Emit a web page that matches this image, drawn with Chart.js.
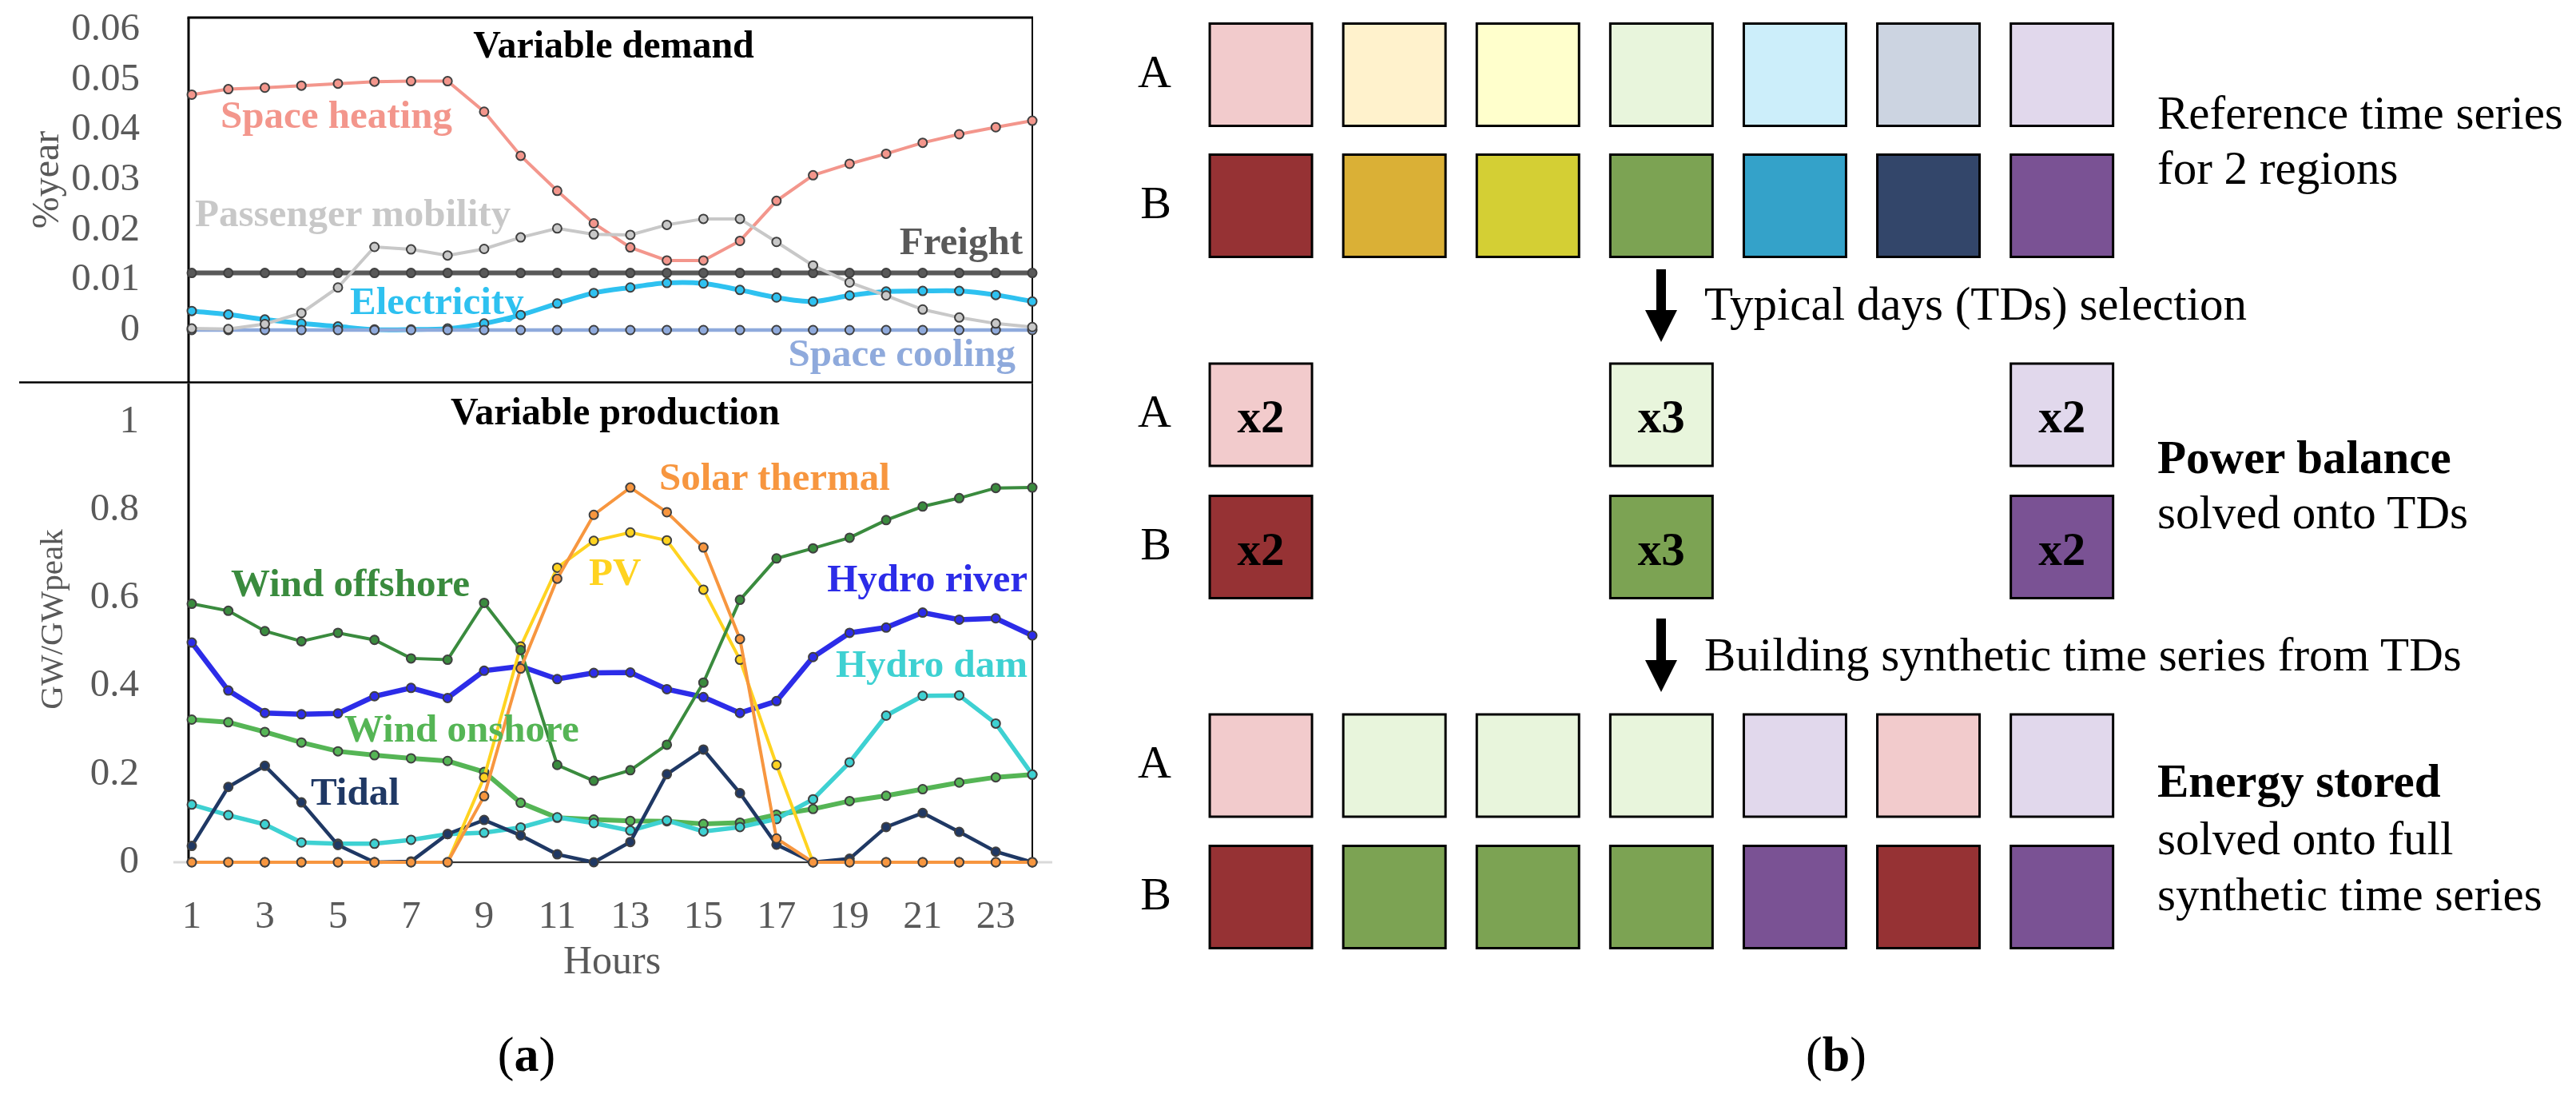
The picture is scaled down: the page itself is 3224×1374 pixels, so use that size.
<!DOCTYPE html>
<html><head><meta charset="utf-8">
<script src="https://cdn.jsdelivr.net/npm/chart.js@4.4.1/dist/chart.umd.min.js"></script>
<style>
html,body{margin:0;padding:0;background:#fff;}
#page{position:relative;width:3224px;height:1374px;overflow:hidden;background:#fff;}
canvas{position:absolute;}
.t{position:absolute;white-space:nowrap;font-family:'Liberation Serif','Times New Roman',serif;}
</style></head>
<body><div id="page">
<canvas id="demand"></canvas>
<canvas id="production"></canvas>
<canvas id="stage1"></canvas>
<canvas id="stage2"></canvas>
<canvas id="stage3"></canvas>
<svg id="arrows" width="3224" height="1374" style="position:absolute;left:0;top:0">
  <rect x="2073" y="337" width="12" height="52" fill="#000"/>
  <polygon points="2059,388 2099,388 2079,428" fill="#000"/>
  <rect x="2073" y="774" width="12" height="53" fill="#000"/>
  <polygon points="2059,826 2099,826 2079,866" fill="#000"/>
</svg>
</div>
<script>
// ---------------- DATA ----------------
const hours = [1,2,3,4,5,6,7,8,9,10,11,12,13,14,15,16,17,18,19,20,21,22,23,24];
const hourTicks = [1,3,5,7,9,11,13,15,17,19,21,23];
const hourTickLabels = ['1','3','5','7','9','11','13','15','17','19','21','23'];

const demandTicks = [0,0.01,0.02,0.03,0.04,0.05,0.06];
const demandTickLabels = ['0','0.01','0.02','0.03','0.04','0.05','0.06'];
const productionTicks = [0,0.2,0.4,0.6,0.8,1];
const productionTickLabels = ['0','0.2','0.4','0.6','0.8','1'];

const spaceHeating = [0.0470,0.0481,0.0484,0.0488,0.0492,0.0496,0.0497,0.0497,0.0436,0.0348,0.0278,0.0213,0.0165,0.0139,0.0139,0.0178,0.0258,0.0309,0.0332,0.0352,0.0374,0.0391,0.0405,0.0418];
const passengerMobility = [0.0003,0.0002,0.0012,0.0034,0.0085,0.0166,0.0161,0.0149,0.0162,0.0185,0.0203,0.0191,0.0190,0.0210,0.0222,0.0222,0.0176,0.0129,0.0095,0.0069,0.0041,0.0025,0.0013,0.0006];
const freight = [0.0114,0.0114,0.0114,0.0114,0.0114,0.0114,0.0114,0.0114,0.0114,0.0114,0.0114,0.0114,0.0114,0.0114,0.0114,0.0114,0.0114,0.0114,0.0114,0.0114,0.0114,0.0114,0.0114,0.0114];
const electricity = [0.0038,0.0031,0.0021,0.0013,0.0007,0.0001,0.0001,0.0003,0.0013,0.0030,0.0053,0.0074,0.0085,0.0094,0.0093,0.0080,0.0065,0.0057,0.0069,0.0077,0.0078,0.0078,0.0070,0.0057];
const spaceCooling = [0,0,0,0,0,0,0,0,0,0,0,0,0,0,0,0,0,0,0,0,0,0,0,0];

const windOffshore = [0.587,0.571,0.525,0.502,0.521,0.505,0.463,0.460,0.589,0.482,0.221,0.185,0.209,0.267,0.408,0.596,0.690,0.713,0.737,0.777,0.808,0.827,0.850,0.851];
const hydroRiver = [0.499,0.390,0.339,0.336,0.338,0.377,0.396,0.373,0.435,0.445,0.416,0.430,0.431,0.393,0.375,0.339,0.366,0.466,0.521,0.533,0.567,0.551,0.554,0.515];
const solarThermal = [0,0,0,0,0,0,0,0,0.150,0.440,0.644,0.789,0.851,0.795,0.715,0.507,0.054,0,0,0,0,0,0,0];
const pv = [0,0,0,0,0,0,0,0,0.193,0.490,0.669,0.730,0.749,0.731,0.619,0.460,0.221,0,0,0,0,0,0,0];
const hydroDam = [0.131,0.107,0.086,0.045,0.042,0.042,0.051,0.064,0.067,0.079,0.102,0.089,0.072,0.095,0.070,0.080,0.098,0.143,0.227,0.333,0.378,0.379,0.315,0.199];
const windOnshore = [0.324,0.318,0.296,0.272,0.252,0.243,0.236,0.230,0.205,0.135,0.101,0.097,0.094,0.093,0.087,0.090,0.108,0.121,0.139,0.151,0.166,0.181,0.193,0.199];
const tidal = [0.037,0.171,0.219,0.136,0.039,0,0.002,0.064,0.096,0.061,0.018,0,0.046,0.200,0.256,0.157,0.040,0,0.008,0.080,0.112,0.069,0.024,0];

// panel (b)
const regions = ['A','B'];
const referenceDays = [1,2,3,4,5,6,7];
const dayColorsA = ['#F2CBCC','#FFF2CC','#FFFFCC','#E8F5DC','#CCEEFA','#CCD4E1','#E1D8EC'];
const dayColorsB = ['#963234','#DAB036','#D4CF34','#7CA353','#34A2C9','#33466A','#7A5294'];
const typicalDays = [1,4,7];
const typicalDayWeights = ['x2','x3','x2'];
const syntheticSequence = [1,4,4,4,7,1,7];

// ---------------- STYLES / LAYOUT ----------------
const SERIF = "'Liberation Serif','Times New Roman',serif";
const GREY = '#595959';
const page = document.getElementById('page');

function setCanvas(id, left, top, w, h){
  const c = document.getElementById(id);
  c.width = w; c.height = h;
  c.style.left = left+'px'; c.style.top = top+'px';
  c.style.width = w+'px'; c.style.height = h+'px';
  return c;
}
function addText(html, x, baseline, size, opts){
  opts = opts || {};
  const d = document.createElement('div');
  d.className = 't';
  d.innerHTML = html;
  d.style.fontSize = size+'px';
  d.style.lineHeight = size+'px';
  d.style.top = (baseline - 0.8375*size)+'px';
  d.style.color = opts.color || '#000';
  d.style.fontWeight = opts.bold ? 'bold' : 'normal';
  if (opts.align === 'center'){ d.style.left = x+'px'; d.style.transform = 'translateX(-50%)'; }
  else if (opts.align === 'right'){ d.style.right = (3224-x)+'px'; }
  else d.style.left = x+'px';
  page.appendChild(d);
}
function addRotText(txt, cx, cy, size, color){
  const d = document.createElement('div');
  d.className = 't';
  d.textContent = txt;
  d.style.fontSize = size+'px';
  d.style.lineHeight = size+'px';
  d.style.color = color;
  d.style.left = cx+'px'; d.style.top = cy+'px';
  d.style.transform = 'translate(-50%,-50%) rotate(-90deg)';
  page.appendChild(d);
}
function pts(vals){ return hours.map((h,i)=>({x:h, y:vals[i]})); }
function series(label, vals, color, width, opts){
  return Object.assign({
    label: label, data: pts(vals), borderColor: color, borderWidth: width,
    pointRadius: 5.5, pointHoverRadius: 5.5, pointBorderWidth: 2, pointBorderColor: '#404040',
    pointBackgroundColor: color, tension: 0, clip: false, fill: false
  }, opts || {});
}
function fixedAxis(width){
  return function(scale){ scale.width = width; scale.paddingTop = 0; scale.paddingBottom = 0; scale.paddingLeft = 0; scale.paddingRight = 0; };
}
Chart.defaults.animation = false;
Chart.defaults.font.family = SERIF;

const HOUR_MIN = 0.9125, HOUR_MAX = 24;

// ---------------- DEMAND CHART ----------------
setCanvas('demand', 0, 0, 1320, 482);
const demandFrame = {
  id: 'demandFrame',
  beforeDatasetsDraw(chart){
    const {ctx, chartArea: a} = chart;
    ctx.save(); ctx.strokeStyle = '#000';
    ctx.lineWidth = 3; ctx.beginPath(); ctx.moveTo(a.left-1.5, a.top); ctx.lineTo(a.right+1, a.top); ctx.stroke();
    ctx.lineWidth = 3; ctx.beginPath(); ctx.moveTo(a.left, a.top); ctx.lineTo(a.left, a.bottom); ctx.stroke();
    ctx.lineWidth = 2; ctx.beginPath(); ctx.moveTo(a.right, a.top); ctx.lineTo(a.right, a.bottom); ctx.stroke();
    ctx.lineWidth = 2.5; ctx.beginPath(); ctx.moveTo(24, a.bottom-0.5); ctx.lineTo(a.right+1, a.bottom-0.5); ctx.stroke();
    ctx.restore();
  }
};
new Chart(document.getElementById('demand'), {
  type: 'line',
  data: { datasets: [
    series('Passenger mobility', passengerMobility, '#C8C8C8', 4),
    series('Space cooling', spaceCooling, '#8FAADC', 4.5),
    series('Electricity', electricity, '#2EC1F0', 6, {tension: 0.3}),
    series('Freight', freight, '#595959', 6),
    series('Space heating', spaceHeating, '#F3968C', 4)
  ]},
  options: {
    responsive: false, events: [],
    layout: { autoPadding: false, padding: { left: 0, right: 28, top: 22, bottom: 3 } },
    plugins: { legend: { display: false }, tooltip: { enabled: false } },
    scales: {
      x: { type: 'linear', min: HOUR_MIN, max: HOUR_MAX, display: false },
      y: {
        type: 'linear', min: -0.010532, max: 0.062394,
        afterBuildTicks(scale){ scale.ticks = demandTicks.map(v=>({value:v})); },
        afterFit: fixedAxis(236),
        grid: { display: false, drawTicks: false }, border: { display: false },
        ticks: { padding: 61, color: GREY, font: { family: SERIF, size: 49 },
          callback: (v, i) => demandTickLabels[i] }
      }
    }
  },
  plugins: [demandFrame]
});

// ---------------- PRODUCTION CHART ----------------
setCanvas('production', 0, 470, 1320, 730);
const prodFrame = {
  id: 'prodFrame',
  beforeDatasetsDraw(chart){
    const {ctx, chartArea: a} = chart;
    const y0 = chart.scales.y.getPixelForValue(0);
    ctx.save();
    ctx.strokeStyle = '#D9D9D9'; ctx.lineWidth = 3;
    ctx.beginPath(); ctx.moveTo(a.left-19, y0); ctx.lineTo(a.right+25, y0); ctx.stroke();
    ctx.strokeStyle = '#000';
    ctx.lineWidth = 3; ctx.beginPath(); ctx.moveTo(a.left, a.top); ctx.lineTo(a.left, a.bottom); ctx.stroke();
    ctx.lineWidth = 2; ctx.beginPath(); ctx.moveTo(a.right, a.top); ctx.lineTo(a.right, a.bottom); ctx.stroke();
    ctx.lineWidth = 1.5; ctx.beginPath(); ctx.moveTo(a.left, a.bottom); ctx.lineTo(a.right, a.bottom); ctx.stroke();
    ctx.restore();
  }
};
new Chart(document.getElementById('production'), {
  type: 'line',
  data: { datasets: [
    series('Solar thermal', solarThermal, '#F7963F', 4),
    series('Wind offshore', windOffshore, '#3A8B3E', 4),
    series('PV', pv, '#FFD320', 4),
    series('Tidal', tidal, '#1F3864', 4.5),
    series('Hydro dam', hydroDam, '#3ED1D2', 5.5),
    series('Wind onshore', windOnshore, '#55B555', 6),
    series('Hydro river', hydroRiver, '#2C2CE8', 6.5)
  ]},
  options: {
    responsive: false, events: [],
    layout: { autoPadding: false, padding: { left: 0, right: 28, top: 10, bottom: 0 } },
    plugins: { legend: { display: false }, tooltip: { enabled: false } },
    scales: {
      x: {
        type: 'linear', min: HOUR_MIN, max: HOUR_MAX,
        afterBuildTicks(scale){ scale.ticks = hourTicks.map(v=>({value:v})); },
        afterFit(scale){ scale.height = 121; scale.paddingLeft = 0; scale.paddingRight = 0; },
        grid: { display: false, drawTicks: false }, border: { display: false },
        ticks: { padding: 40, color: GREY, maxRotation: 0, autoSkip: false, font: { family: SERIF, size: 49 },
          callback: (v, i) => hourTickLabels[i] }
      },
      y: {
        type: 'linear', min: 0, max: 1.0871,
        afterBuildTicks(scale){ scale.ticks = productionTicks.map(v=>({value:v})); },
        afterFit: fixedAxis(236),
        grid: { display: false, drawTicks: false }, border: { display: false },
        ticks: { padding: 62, color: GREY, font: { family: SERIF, size: 49 },
          callback: (v, i) => productionTickLabels[i] }
      }
    }
  },
  plugins: [prodFrame]
});

// ---------------- PANEL (b) ----------------
const STAGE_LEFT = 1380, STAGE_W = 1300, STAGE_AXIS_W = 114.5, STAGE_PLOT_W = 1169.7;
const weightLabels = {
  id: 'weightLabels',
  afterDatasetsDraw(chart){
    const ctx = chart.ctx;
    chart.data.datasets.forEach((ds, di) => {
      if (!ds.weights) return;
      chart.getDatasetMeta(di).data.forEach((el, j) => {
        ctx.save();
        ctx.font = 'bold 59px ' + SERIF;
        ctx.fillStyle = '#000'; ctx.textAlign = 'center'; ctx.textBaseline = 'alphabetic';
        ctx.fillText(ds.weights[j], el.x, el.y + 22);
        ctx.restore();
      });
    });
  }
};
function makeStage(id, areaTop, areaBottom, rows){
  const padTop = 10, padBottom = 10;
  const top = Math.floor(areaTop - padTop);
  const h = Math.ceil(areaBottom + padBottom) - top;
  setCanvas(id, STAGE_LEFT, top, STAGE_W, h);
  new Chart(document.getElementById(id), {
    type: 'scatter',
    data: { datasets: rows.map(r => ({
      label: r.region,
      data: r.days.map(d => ({x: d, y: r.region})),
      pointStyle: 'rect', pointRadius: 90.5, pointHoverRadius: 90.5,
      pointBackgroundColor: r.colors, pointBorderColor: '#000', pointBorderWidth: 3,
      weights: r.weights, clip: false
    }))},
    options: {
      responsive: false, events: [],
      layout: { autoPadding: false, padding: { left: 0, right: STAGE_W - STAGE_AXIS_W - STAGE_PLOT_W, top: areaTop - top, bottom: top + h - areaBottom } },
      plugins: { legend: { display: false }, tooltip: { enabled: false } },
      scales: {
        x: { type: 'linear', min: 0.5, max: 7.5, display: false },
        y: { type: 'category', labels: regions, offset: true,
          afterFit: fixedAxis(STAGE_AXIS_W),
          grid: { display: false, drawTicks: false }, border: { display: false },
          ticks: { padding: 28.5, color: '#000', font: { family: SERIF, size: 58 } } }
      }
    },
    plugins: [weightLabels]
  });
}
makeStage('stage1', 11.5, 339.5, [
  { region: 'A', days: referenceDays, colors: referenceDays.map(d => dayColorsA[d-1]) },
  { region: 'B', days: referenceDays, colors: referenceDays.map(d => dayColorsB[d-1]) }
]);
makeStage('stage2', 436.25, 767.25, [
  { region: 'A', days: typicalDays, colors: typicalDays.map(d => dayColorsA[d-1]), weights: typicalDayWeights },
  { region: 'B', days: typicalDays, colors: typicalDays.map(d => dayColorsB[d-1]), weights: typicalDayWeights }
]);
makeStage('stage3', 875.75, 1204.75, [
  { region: 'A', days: referenceDays, colors: syntheticSequence.map(d => dayColorsA[d-1]) },
  { region: 'B', days: referenceDays, colors: syntheticSequence.map(d => dayColorsB[d-1]) }
]);

// ---------------- TEXT ----------------
// panel (a)
addText('Variable demand', 768, 72, 48, {bold: true, align: 'center'});
addText('Space heating', 276, 160, 49, {bold: true, color: '#F3968C'});
addText('Passenger mobility', 244, 283, 49, {bold: true, color: '#C8C8C8'});
addText('Freight', 1280, 318, 49, {bold: true, color: '#595959', align: 'right'});
addText('Electricity', 438, 393, 49, {bold: true, color: '#2EC1F0'});
addText('Space cooling', 1271, 458, 49, {bold: true, color: '#8FAADC', align: 'right'});
addText('Variable production', 770, 531, 48, {bold: true, align: 'center'});
addText('Solar thermal', 825, 613, 49, {bold: true, color: '#F7963F'});
addText('PV', 737, 732, 49, {bold: true, color: '#FFD320'});
addText('Wind offshore', 289, 746, 49, {bold: true, color: '#3A8B3E'});
addText('Hydro river', 1286, 740, 49, {bold: true, color: '#2C2CE8', align: 'right'});
addText('Hydro dam', 1286, 847, 49, {bold: true, color: '#3ED1D2', align: 'right'});
addText('Wind onshore', 431, 928, 49, {bold: true, color: '#55B555'});
addText('Tidal', 389, 1007, 49, {bold: true, color: '#1F3864'});
addRotText('%year', 57, 225, 48, GREY);
addRotText('GW/GWpeak', 64, 775, 41, GREY);
addText('Hours', 766, 1218, 50, {color: GREY, align: 'center'});
addText('(<b>a</b>)', 659, 1340, 62, {align: 'center'});
// panel (b)
addText('Reference time series', 2700, 161, 59);
addText('for 2 regions', 2700, 230, 59);
addText('Typical days (TDs) selection', 2133, 400, 59);
addText('Power balance', 2700, 592, 59, {bold: true});
addText('solved onto TDs', 2700, 661, 59);
addText('Building synthetic time series from TDs', 2133, 839, 59);
addText('Energy stored', 2700, 997, 59, {bold: true});
addText('solved onto full', 2700, 1069, 59);
addText('synthetic time series', 2700, 1139, 59);
addText('(<b>b</b>)', 2298, 1340, 62, {align: 'center'});
</script>
</body></html>
